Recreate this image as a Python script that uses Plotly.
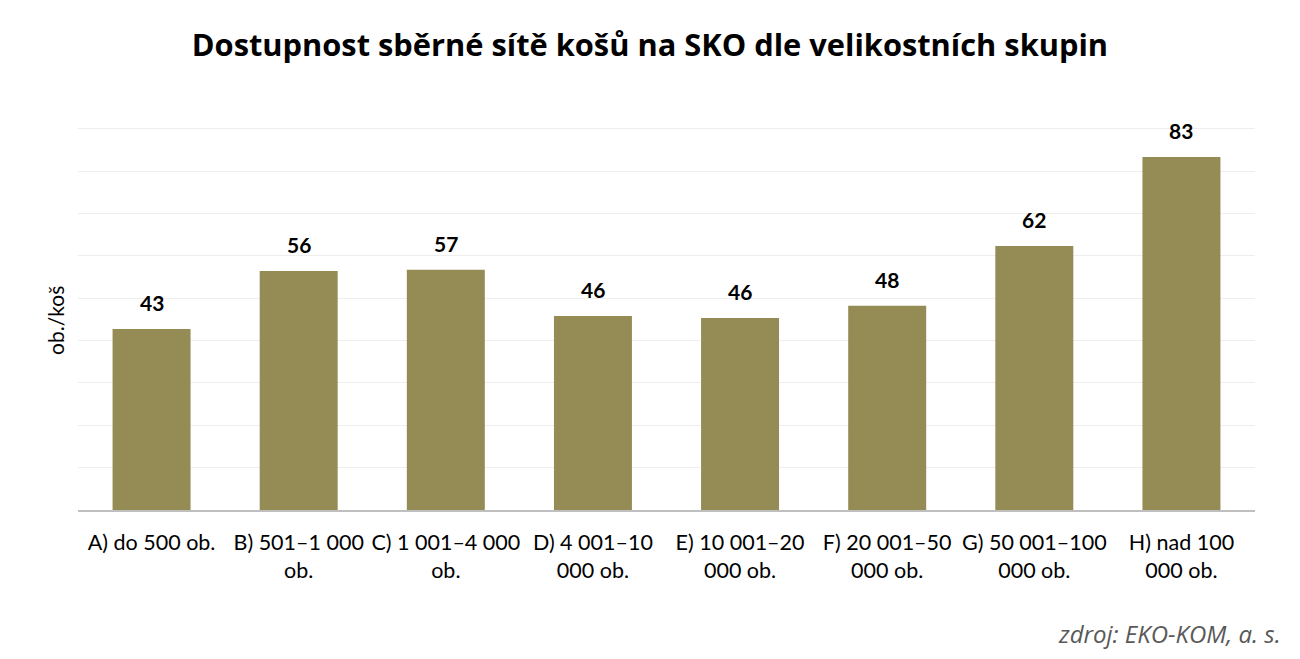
import plotly.graph_objects as go

categories = [
    "A) do 500 ob.",
    "B) 501–1 000<br>ob.",
    "C) 1 001–4 000<br>ob.",
    "D) 4 001–10<br>000 ob.",
    "E) 10 001–20<br>000 ob.",
    "F) 20 001–50<br>000 ob.",
    "G) 50 001–100<br>000 ob.",
    "H) nad 100<br>000 ob.",
]
values = [42.7, 56.4, 56.7, 45.8, 45.3, 48.2, 62.3, 83.3]
labels = ["43", "56", "57", "46", "46", "48", "62", "83"]

BAR = "#958B54"
LABEL_FONT = "Lato, Liberation Sans, sans-serif"

fig = go.Figure(go.Bar(x=categories, y=values, marker=dict(color=BAR, line=dict(width=0)),
                       hoverinfo="skip"))

for c, v, t in zip(categories, values, labels):
    fig.add_annotation(x=c, y=v, text=f"<b>{t}</b>", showarrow=False, yanchor="bottom",
                       yshift=12, font=dict(family=LABEL_FONT, size=21, color="#000000"))

fig.add_annotation(xref="paper", yref="paper", x=0, y=0.495, xanchor="right", yanchor="middle",
                   xshift=-8, text="ob./koš", textangle=-90, showarrow=False,
                   font=dict(family=LABEL_FONT, size=21, color="#000000"))

fig.add_annotation(xref="paper", yref="paper", x=1.0235, y=-0.323, xanchor="right",
                   yanchor="middle", text="<i>zdroj: EKO-KOM, a. s.</i>", showarrow=False,
                   font=dict(family="Open Sans, sans-serif", size=24, color="#595959"))

fig.update_layout(
    width=1300, height=659,
    margin=dict(l=70, r=53, t=119, b=157),
    paper_bgcolor="white", plot_bgcolor="white",
    bargap=0.47,
    showlegend=False,
    title=dict(text="<b>Dostupnost sběrné sítě košů na SKO dle velikostních skupin</b>",
               x=0.4938, xref="container", xanchor="center", y=0.944, yref="container",
               yanchor="middle",
               font=dict(family="Open Sans, sans-serif", size=30.8, color="#000000")),
    xaxis=dict(showline=True, linecolor="#BFBFBF", linewidth=1.5, ticks="", showgrid=False,
               ticklabelstandoff=12,
               tickfont=dict(family=LABEL_FONT, size=21.5, color="#000000")),
    yaxis=dict(range=[0, 90.4], tick0=0, dtick=10, showticklabels=False, showgrid=True,
               gridcolor="#EEEEEE", gridwidth=1, zeroline=False, showline=False, ticks=""),
)

fig.write_html("out.html")
